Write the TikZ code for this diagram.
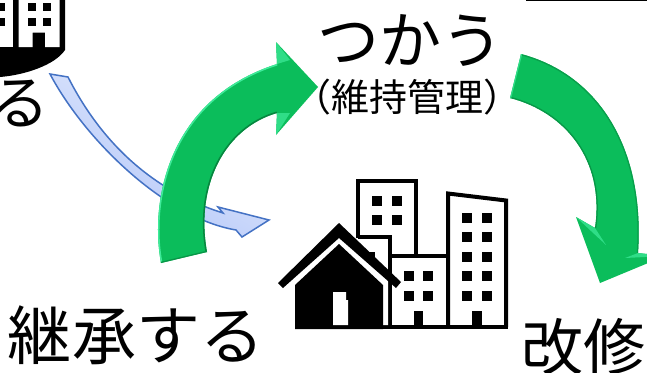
\documentclass[tikz,border=0pt]{standalone}
\usepackage{fontspec}
\newfontfamily\cjk{Noto Sans CJK JP}
\definecolor{gbase}{HTML}{0BBD5B}
\definecolor{glight}{HTML}{3FEB9A}
\definecolor{gdark}{HTML}{08853F}
\definecolor{bline}{HTML}{4472C4}
\definecolor{bpale}{HTML}{E8EEFD}
\definecolor{bdeep}{HTML}{B0C4F8}
\def\pathGL{(161,263) .. controls (150,205) and (165,100) .. (277,64) -- (276,42) -- (318,87) -- (276,135) -- (277,113) .. controls (225,128) and (195,185) .. (207,252) -- cycle}
\def\pathGR{(521,54) .. controls (600,75) and (645,150) .. (638,253) -- (665,256) -- (600,283) -- (576,217) -- (595,228) .. controls (605,160) and (565,112) .. (510,98) -- cycle}
\def\pathBL{(50,74) .. controls (85,140) and (165,218) .. (236,230) -- (242,237) -- (269,220) -- (218,207) -- (223,213) .. controls (150,190) and (100,140) .. (68,77) -- cycle}
\tikzset{
  ink/.style={line width=4pt,draw=black,line join=miter},
  win/.style={fill=black},
  label/.style={font=\cjk,inner sep=0pt,text=black},
}
\begin{document}
\begin{tikzpicture}[x=1pt,y=-1pt]
\useasboundingbox (0,0) rectangle (647,372);
\clip (0,0) rectangle (647,372);
\fill[white] (0,0) rectangle (647,372);
% top-right rule
\fill[black] (526,0) rectangle (647,1.2);
% partial icon, top left
\fill[black] (0,0) -- (65,0) -- (65,50) .. controls (55,65) and (25,75) .. (0,77) -- cycle;
\fill[white] (0,0) rectangle (12.5,47);
\fill[white] (18.5,0) -- (59.5,0) -- (59.5,47) -- (45,47) -- (45,32.5) -- (32.5,32.5) -- (32.5,47) -- (18.5,47) -- cycle;
\foreach \x/\w in {0/5,27.5/8,42.5/8}{\foreach \y in {2.5,17.5}{\fill[win] (\x,\y) rectangle ++(\w,8);}}
% blue arrow
\path[draw=bline,line width=1.5pt,line join=miter,left color=bpale,right color=bdeep,shading angle=-30] \pathBL;
% buildings
\draw[ink] (358,238) -- (358,181) -- (416,181) -- (416,256);
\draw[ink] (358,237) -- (390,237) -- (390,327);
\draw[ink] (390,256) -- (448,256);
\draw[ink] (448,327) -- (448,193.5) -- (506,200.5) -- (506,327);
\draw[ink] (296,327) -- (508,327);
\foreach \x in {372,392}{\foreach \y in {196,215}{\fill[win] (\x,\y) rectangle ++(10,10);}}
\fill[win] (365,252) rectangle ++(10,10);
\foreach \x in {404,423}{\foreach \y in {271,291}{\fill[win] (\x,\y) rectangle ++(10,10);}}
\foreach \x in {462,482}{\foreach \y in {213,232,252,271,291}{\fill[win] (\x,\y) rectangle ++(10,10);}}
\fill[win] (414,311) rectangle (423,327);
\fill[win] (472,311) rectangle (482,327);
% house
\fill[white] (278,290) -- (339,232) -- (388,278) -- (388,325) -- (295,325) -- cycle;
\fill[black] (295,285) -- (339,244) -- (383,285) -- (383,329) -- (295,329) -- cycle;
\fill[black] (278,283) -- (339,223) -- (401,282) -- (396,288) -- (339,238) -- (283,288) -- cycle;
\fill[white] (333,292) -- (346,292) -- (346,300) -- (348,300) -- (348,325) -- (333,325) -- cycle;
% green arrows
\fill[gbase] \pathGL;
\begin{scope}
\clip \pathGL;
\draw[glight,line width=3pt] (161,263) .. controls (150,205) and (165,100) .. (277,64);
\draw[gdark,line width=3pt] (277,113) .. controls (225,128) and (195,185) .. (207,252);
\draw[gdark!70!gbase,line width=2.5pt] (161,263) -- (207,252);
\fill[glight!70!gbase] (276,42) -- (290,60) -- (277,64) -- cycle;
\fill[glight!70!gbase] (276,135) -- (290,113) -- (277,113) -- cycle;
\end{scope}
\fill[gbase] \pathGR;
\begin{scope}
\clip \pathGR;
\draw[gdark!55!gbase,line width=2.5pt] (521,54) .. controls (600,75) and (645,150) .. (638,253);
\draw[gdark!70!gbase,line width=2.5pt] (595,228) .. controls (605,160) and (565,112) .. (510,98);
\draw[glight!70!gbase,line width=2.5pt] (521,54) -- (510,98);
\fill[glight!70!gbase] (576,217) -- (595,228) -- (606,245) -- cycle;
\fill[glight!70!gbase] (665,256) -- (638,253) -- (625,258) -- cycle;
\end{scope}
% labels
\node[label,font=\cjk\fontsize{62}{62}\selectfont] (use) at (410,40) {つかう};
\node[label,font=\cjk\fontsize{38}{38}\selectfont] (keep) at (407,97) {（維持管理）};
\node[label,font=\cjk\fontsize{64}{64}\selectfont] (inherit) at (136,335) {継承する};
\node[label,font=\cjk\fontsize{62}{62}\selectfont,anchor=west] (renov) at (521,347) {改修};
\node[label,font=\cjk\fontsize{59}{59}\selectfont] (make) at (20,104) {る};
\end{tikzpicture}
\end{document}
